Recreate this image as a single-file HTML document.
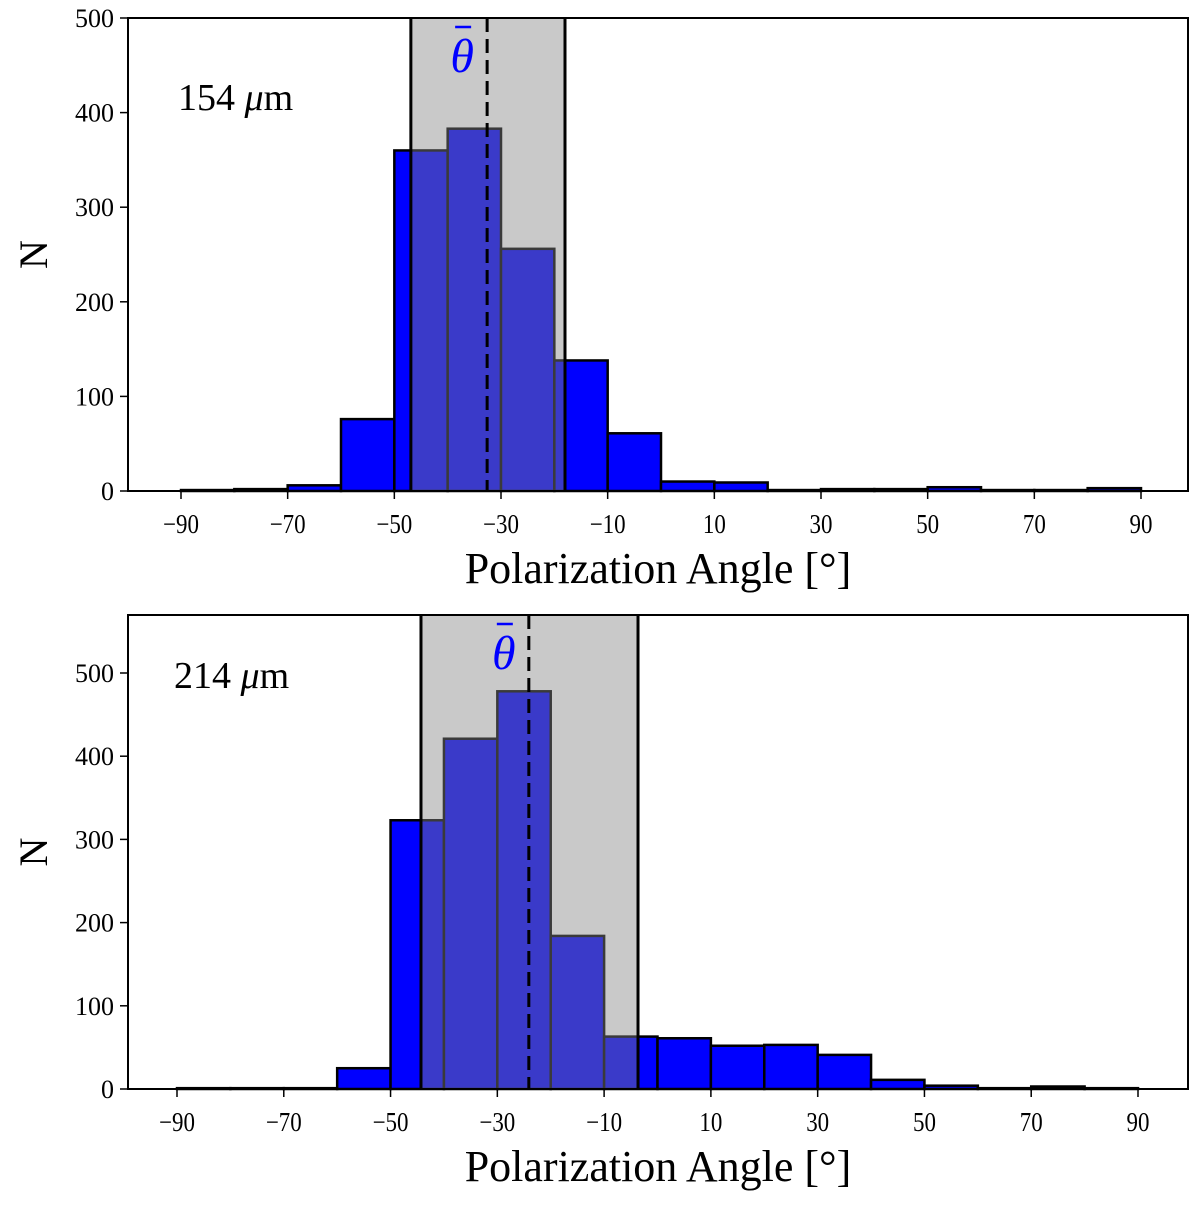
<!DOCTYPE html>
<html><head><meta charset="utf-8"><style>
body{margin:0;background:#fff}
svg text{font-family:"Liberation Serif",serif}
</style></head><body>
<svg id="c" width="1200" height="1203" xmlns="http://www.w3.org/2000/svg"></svg>
<script>
const binEdges=[-90,-80,-70,-60,-50,-40,-30,-20,-10,0,10,20,30,40,50,60,70,80,90];
const xTicks=[-90,-70,-50,-30,-10,10,30,50,70,90];
const counts154=[1,2,6,76,360,383,256,138,61,10,9,1,2,2,4,1,1,3];
const counts214=[1,1,1,25,323,421,478,184,63,61,52,53,41,11,4,1,3,1];
const yTicks154=[0,100,200,300,400,500];
const yTicks214=[0,100,200,300,400,500];
const band154=[-46.9,-18.0], mean154=-32.6;
const band214=[-44.3,-3.65], mean214=-24.1;
const NS="http://www.w3.org/2000/svg";
const svg=document.getElementById('c');
function el(t,a,p){const e=document.createElementNS(NS,t);for(const k in a)e.setAttribute(k,a[k]);(p||svg).appendChild(e);return e;}
function panel(cfg){
  const g=el('g',{});
  
  
  const X=v=>cfg.x0+(v+90)*(cfg.x1-cfg.x0)/180;
  const Y=v=>cfg.yb-v*cfg.ys;
  for(let i=0;i<cfg.counts.length;i++){
    const a=X(binEdges[i]),b=X(binEdges[i+1]),h=cfg.counts[i];
    const r=el('rect',{x:a,y:Y(h),width:b-a,height:cfg.yb-Y(h),fill:'#0000ff',stroke:'#000','stroke-width':2.5},g);
    
    
  }
  const s=el('rect',{x:X(cfg.band[0]),y:cfg.top,width:X(cfg.band[1])-X(cfg.band[0]),height:cfg.yb-cfg.top,fill:'#838383','fill-opacity':0.44},g);
  
  
  for(const v of cfg.band){const l=el('line',{x1:X(v),x2:X(v),y1:cfg.top,y2:cfg.yb,stroke:'#000','stroke-width':3},g);
    }
  const m=el('line',{x1:X(cfg.mean),x2:X(cfg.mean),y1:cfg.top,y2:cfg.yb,stroke:'#000','stroke-width':3,'stroke-dasharray':'14,7'},g);
  
  const cx=X(cfg.mean)-25;
  const tl=el('text',{x:cx,y:cfg.top+54,'font-size':48,'font-style':'italic',fill:'#0000ff','text-anchor':'middle'},g);
  tl.textContent='θ';
  
  const ob=el('line',{x1:cx-7,x2:cx+9,y1:cfg.top+9,y2:cfg.top+9,stroke:'#0000ff','stroke-width':2.5},g);
  
  const f=el('rect',{x:cfg.fx0,y:cfg.top,width:cfg.fx1-cfg.fx0,height:cfg.yb-cfg.top,fill:'none',stroke:'#000','stroke-width':2},g);
  
  for(const t of xTicks){
    el('line',{x1:X(t),x2:X(t),y1:cfg.yb,y2:cfg.yb+8,stroke:'#000','stroke-width':1.5},g);
    const tx=el('text',{x:X(t),y:cfg.yb+42,'font-size':27,'text-anchor':'middle',transform:`translate(${X(t)},0) scale(0.85,1) translate(${-X(t)},0)`},g);
    tx.textContent=(t<0?'−':'')+Math.abs(t);
    
  }
  for(const t of cfg.yTicks){
    el('line',{x1:cfg.fx0-8,x2:cfg.fx0,y1:Y(t),y2:Y(t),stroke:'#000','stroke-width':1.5},g);
    const ty=el('text',{x:cfg.fx0-14,y:Y(t)+9,'font-size':26,'text-anchor':'end'},g);
    ty.textContent=t;
    
  }
  const xt=el('text',{x:658,y:cfg.yb+92,'font-size':44,'text-anchor':'middle'},g);
  xt.textContent='Polarization Angle [°]';
  
  const yt=el('text',{x:0,y:0,'font-size':40,'text-anchor':'middle',transform:`translate(47,${(cfg.top+cfg.yb)/2}) rotate(-90)`},g);
  yt.textContent='N';
  
  const lb=el('text',{x:cfg.lx,y:cfg.ly,'font-size':38},g);
  lb.innerHTML=cfg.label+' <tspan font-style="italic">μ</tspan>m';
  
}
panel({name:'panel-154',counts:counts154,yTicks:yTicks154,band:band154,mean:mean154,x0:181,x1:1141,fx0:128,fx1:1188,top:18,yb:491,ys:473/500,label:'154',lx:178,ly:110});
panel({name:'panel-214',counts:counts214,yTicks:yTicks214,band:band214,mean:mean214,x0:177,x1:1138,fx0:128,fx1:1188,top:615,yb:1089,ys:416/500,label:'214',lx:174,ly:688});
</script>
</body></html>
